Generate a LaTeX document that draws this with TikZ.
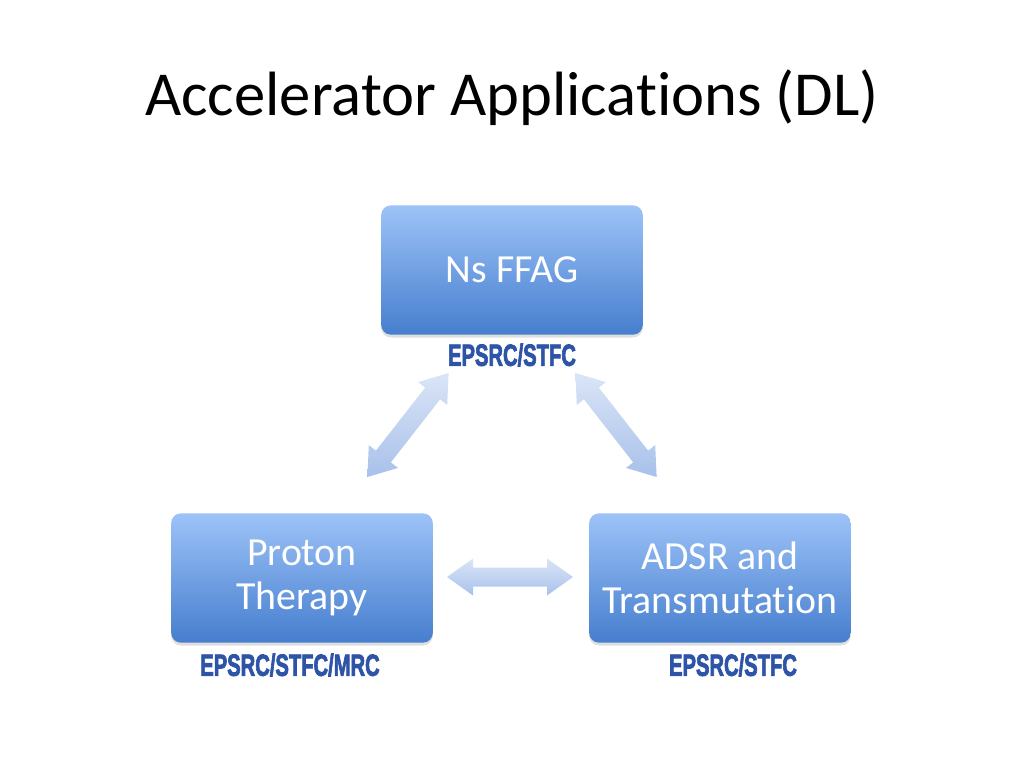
\documentclass[tikz,border=0pt]{standalone}
\usepackage{fontspec}
\usepackage{graphicx}
\setmainfont{Carlito}[Ligatures=NoCommon]
\newfontfamily\fundfont{Liberation Sans Bold}[FakeBold=3]
\usetikzlibrary{shadows,positioning}

\definecolor{boxtop}{RGB}{157,195,248}
\definecolor{boxbot}{RGB}{70,126,206}
\definecolor{arrtop}{RGB}{218,229,247}
\definecolor{arrbot}{RGB}{168,193,234}
\definecolor{fundblue}{RGB}{46,84,168}

\tikzset{
    topic/.style={rounded corners=7pt, top color=boxtop, bottom color=boxbot,
        minimum width=184pt, minimum height=91pt, text=white, align=center,
        font=\fontsize{28}{30.5}\selectfont,
        drop shadow={shadow xshift=0pt, shadow yshift=-2pt, opacity=0.25}},
    funder/.style={text=fundblue, inner sep=0pt,
        font=\fundfont\fontsize{21.5}{21.5}\selectfont},
    pics/link/.style={code={
        \path[top color=arrtop, bottom color=arrbot]
            (-#1,0) -- ({26-#1},-18.5) -- ({26-#1},-9.5) -- ({#1-26},-9.5)
            -- ({#1-26},-18.5) -- (#1,0) -- ({#1-26},18.5) -- ({#1-26},9.5)
            -- ({26-#1},9.5) -- ({26-#1},18.5) -- cycle;
    }}
}

\begin{document}
\begin{tikzpicture}[x=0.703125pt,y=-0.703125pt]
    \useasboundingbox (0,0) rectangle (1024,768);

    \node[anchor=base, font=\fontsize{44}{50}\selectfont] (title) at (512,116) {Accelerator Applications (DL)};

    % topics
    \node[topic] (ffag) at (512,270) {Ns FFAG};
    \node[topic] (proton) at (302,578) {Proton\\Therapy};
    \node[topic] (adsr) at (720,578) {ADSR and\\Transmutation};

    % funders
    \node[funder] (f1) at (512,355) {\scalebox{0.66}[1]{EPSRC/STFC}};
    \node[funder] (f2) at (290,665) {\scalebox{0.66}[1]{EPSRC/STFC/MRC}};
    \node[funder] (f3) at (733,665) {\scalebox{0.66}[1]{EPSRC/STFC}};

    % links
    \pic[rotate=52] (l1) at (408,425) {link=66};
    \pic[rotate=-52] (l2) at (616,425) {link=66};
    \pic (l3) at (510,577) {link=63};
\end{tikzpicture}
\end{document}
